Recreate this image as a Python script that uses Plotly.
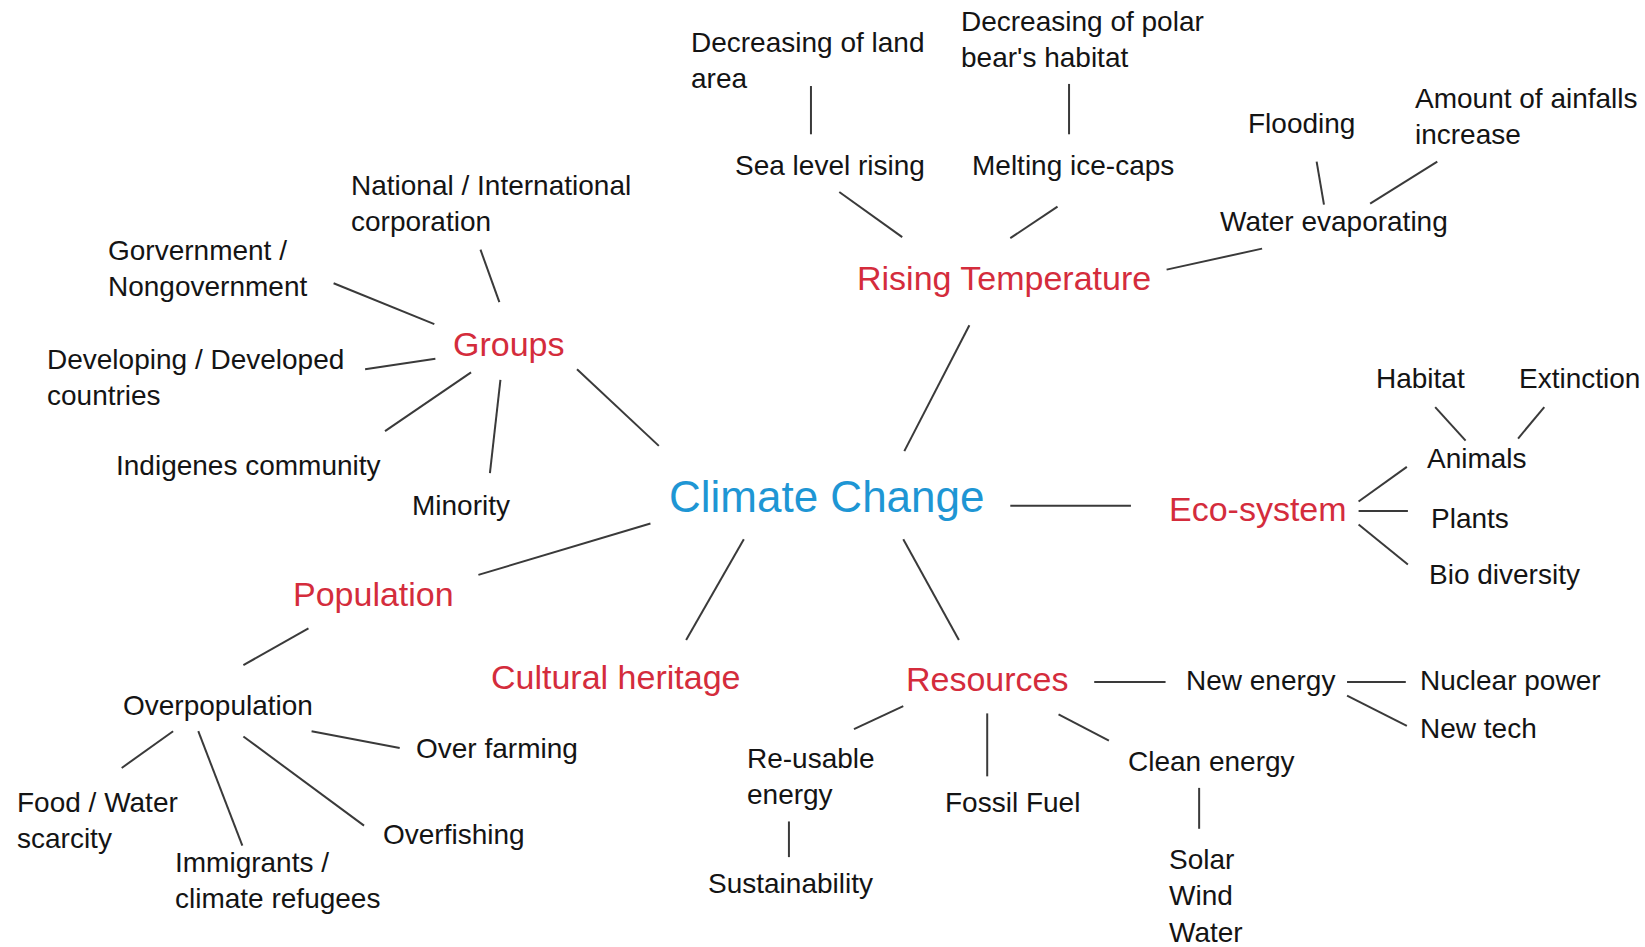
import plotly.graph_objects as go

# ---- data: node labels and hierarchy ----
center_label = "Climate Change"
branch_labels = ["Rising Temperature", "Groups", "Eco-system", "Population",
                 "Cultural heritage", "Resources"]
leaf_labels = [
    "Decreasing of land<br>area", "Decreasing of polar<br>bear's habitat",
    "Sea level rising", "Melting ice-caps", "Flooding",
    "Amount of ainfalls<br>increase", "Water evaporating",
    "National / International<br>corporation", "Gorvernment /<br>Nongovernment",
    "Developing / Developed<br>countries", "Indigenes community", "Minority",
    "Habitat", "Extinction", "Animals", "Plants", "Bio diversity",
    "New energy", "Nuclear power", "New tech", "Re-usable<br>energy",
    "Fossil Fuel", "Clean energy", "Solar<br>Wind<br>Water", "Sustainability",
    "Overpopulation", "Over farming", "Food / Water<br>scarcity",
    "Immigrants /<br>climate refugees", "Overfishing",
]
edges = [
    ("Climate Change", "Rising Temperature"), ("Climate Change", "Groups"),
    ("Climate Change", "Eco-system"), ("Climate Change", "Population"),
    ("Climate Change", "Cultural heritage"), ("Climate Change", "Resources"),
    ("Rising Temperature", "Sea level rising"), ("Rising Temperature", "Melting ice-caps"),
    ("Rising Temperature", "Water evaporating"),
    ("Sea level rising", "Decreasing of land<br>area"),
    ("Melting ice-caps", "Decreasing of polar<br>bear's habitat"),
    ("Water evaporating", "Flooding"), ("Water evaporating", "Amount of ainfalls<br>increase"),
    ("Groups", "National / International<br>corporation"), ("Groups", "Gorvernment /<br>Nongovernment"),
    ("Groups", "Developing / Developed<br>countries"), ("Groups", "Indigenes community"),
    ("Groups", "Minority"),
    ("Eco-system", "Animals"), ("Eco-system", "Plants"), ("Eco-system", "Bio diversity"),
    ("Animals", "Habitat"), ("Animals", "Extinction"),
    ("Population", "Overpopulation"),
    ("Overpopulation", "Food / Water<br>scarcity"), ("Overpopulation", "Immigrants /<br>climate refugees"),
    ("Overpopulation", "Overfishing"), ("Overpopulation", "Over farming"),
    ("Resources", "New energy"), ("New energy", "Nuclear power"), ("New energy", "New tech"),
    ("Resources", "Re-usable<br>energy"), ("Resources", "Fossil Fuel"), ("Resources", "Clean energy"),
    ("Re-usable<br>energy", "Sustainability"), ("Clean energy", "Solar<br>Wind<br>Water"),
]

# ---- layout: positions (reference pixels, left edge & vertical middle) ----
S = 1645 / 1568
pos = {
    "Climate Change": (636, 473),
    "Rising Temperature": (815, 265), "Groups": (430, 328), "Eco-system": (1112, 485),
    "Population": (277, 566), "Cultural heritage": (466, 645), "Resources": (862, 647),
    "Decreasing of land<br>area": (657, 58), "Decreasing of polar<br>bear's habitat": (914, 38),
    "Sea level rising": (699, 158), "Melting ice-caps": (925, 158), "Flooding": (1188, 118),
    "Amount of ainfalls<br>increase": (1347, 111), "Water evaporating": (1161, 211),
    "National / International<br>corporation": (333, 194), "Gorvernment /<br>Nongovernment": (101, 256),
    "Developing / Developed<br>countries": (43, 360), "Indigenes community": (109, 444),
    "Minority": (391, 482),
    "Habitat": (1310, 361), "Extinction": (1446, 361), "Animals": (1358, 437),
    "Plants": (1362, 494), "Bio diversity": (1360, 548),
    "New energy": (1129, 649), "Nuclear power": (1352, 649), "New tech": (1352, 694),
    "Re-usable<br>energy": (710, 740), "Fossil Fuel": (899, 765), "Clean energy": (1073, 726),
    "Solar<br>Wind<br>Water": (1112, 854), "Sustainability": (673, 842),
    "Overpopulation": (115, 672), "Over farming": (395, 713), "Food / Water<br>scarcity": (14, 782),
    "Immigrants /<br>climate refugees": (165, 839), "Overfishing": (363, 795),
}
# connector segments for each edge (same order as edges)
segs = [
    ((862, 430), (924, 310)), ((628, 425), (550, 352)), ((963, 482), (1078, 482)),
    ((620, 499), (456, 548)), ((709, 514), (654, 610)), ((861, 514), (914, 610)),
    ((860, 226), (800, 183)), ((963, 227), (1008, 197)), ((1112, 257), (1203, 237)),
    ((773, 128), (773, 82)), ((1019, 128), (1019, 80)),
    ((1262, 195), (1255, 154)), ((1306, 194), (1370, 154)),
    ((476, 288), (458, 238)), ((414, 309), (318, 270)), ((415, 342), (348, 352)),
    ((449, 355), (367, 411)), ((477, 362), (467, 451)),
    ((1295, 478), (1341, 445)), ((1295, 487), (1342, 487)), ((1295, 500), (1342, 538)),
    ((1397, 420), (1368, 388)), ((1447, 418), (1472, 388)),
    ((294, 599), (232, 634)),
    ((165, 697), (116, 732)), ((189, 697), (231, 806)), ((232, 702), (347, 787)),
    ((297, 697), (381, 713)),
    ((1043, 650), (1111, 650)), ((1284, 650), (1340, 650)), ((1284, 663), (1341, 692)),
    ((861, 673), (814, 695)), ((941, 680), (941, 740)), ((1009, 681), (1057, 706)),
    ((752, 783), (752, 817)), ((1143, 751), (1143, 790)),
]

FONT = "Liberation Sans, Arial, Helvetica, sans-serif"
RED = "#d42c3c"
BLUE = "#1e96d4"
INK = "#141414"
LINE = "#3a3a3a"

fig = go.Figure()
xs, ys = [], []
for (a, b) in segs:
    xs += [a[0] * S, b[0] * S, None]
    ys += [a[1] * S, b[1] * S, None]
fig.add_trace(go.Scatter(x=xs, y=ys, mode="lines",
                         line=dict(color=LINE, width=2), hoverinfo="skip",
                         showlegend=False))

annotations = []
def add(label, color, size):
    x, y = pos[label]
    annotations.append(dict(x=x * S, y=y * S, xref="x", yref="y", text=label,
                            showarrow=False, xanchor="left", yanchor="middle",
                            align="left", font=dict(family=FONT, size=size, color=color)))

add(center_label, BLUE, 44)
for lb in branch_labels:
    add(lb, RED, 34)
for lb in leaf_labels:
    add(lb, INK, 28)

fig.update_layout(
    annotations=annotations,
    width=1645, height=947,
    margin=dict(l=0, r=0, t=0, b=0),
    paper_bgcolor="white", plot_bgcolor="white",
    xaxis=dict(range=[0, 1645], visible=False, fixedrange=True),
    yaxis=dict(range=[947, 0], visible=False, fixedrange=True),
)
fig.write_html("out.html", config={"displayModeBar": False},
               post_script="document.body.style.margin='0';document.body.style.overflow='hidden';")
